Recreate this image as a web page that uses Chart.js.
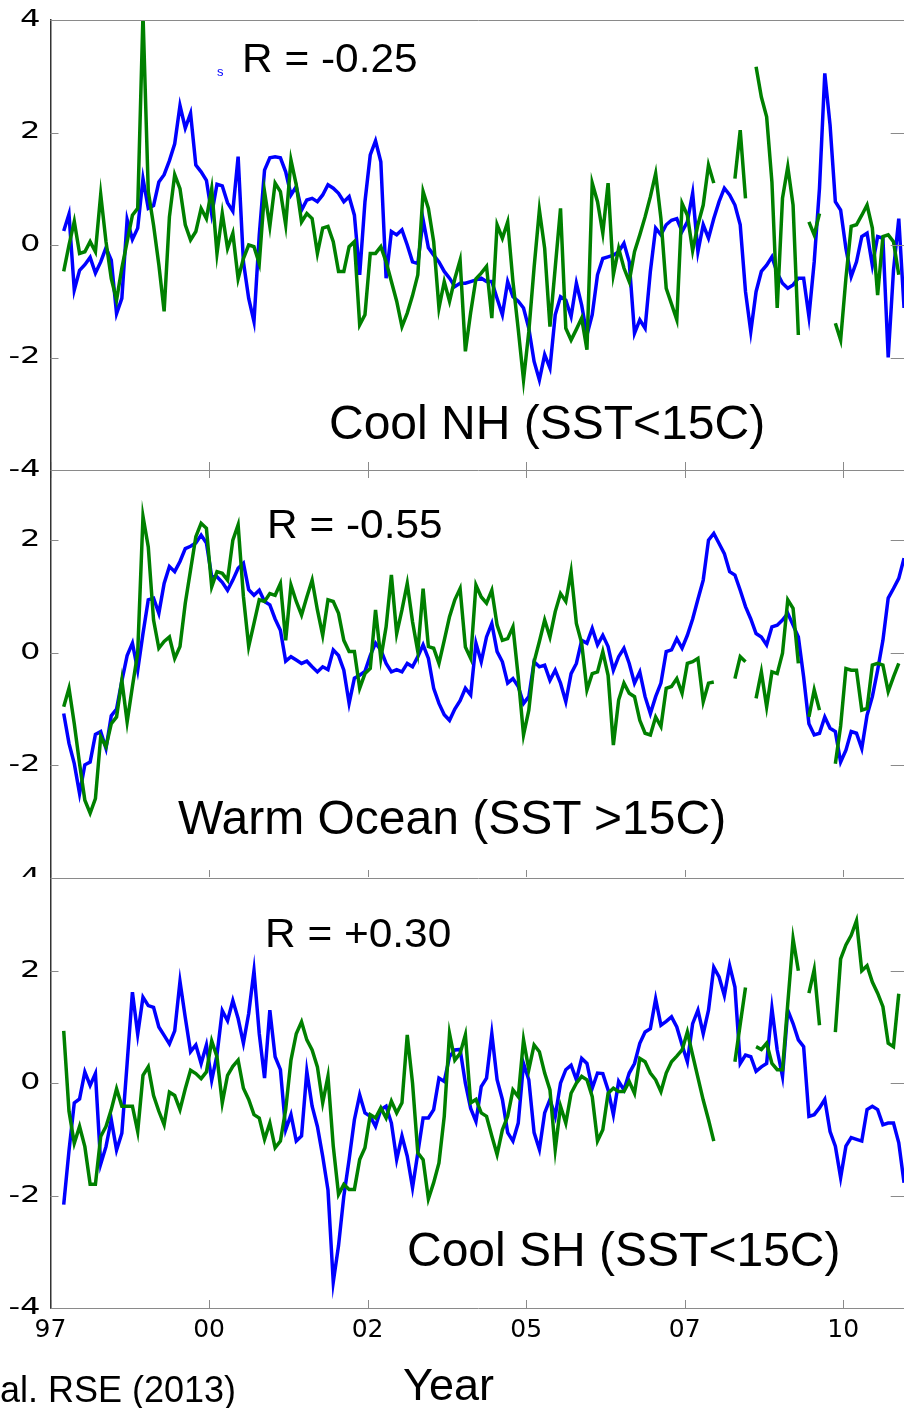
<!DOCTYPE html>
<html lang="en">
<head>
<meta charset="UTF-8">
<title>Chlorophyll anomalies 1997-2010</title>
<script src="https://cdn.jsdelivr.net/npm/chart.js@4"></script>
<style>
  html, body { margin: 0; padding: 0; background: #fff; }
  body { width: 904px; height: 1408px; position: relative; overflow: hidden; font-family: "Liberation Sans", Arial, sans-serif; }
  .panel { position: absolute; left: 0; width: 920px; overflow: hidden; }
  .panel canvas { position: absolute; left: 0; }
  .note { position: absolute; white-space: nowrap; color: #000; line-height: 1; z-index: 5; }
  .r { transform: scaleX(1.06); transform-origin: left top; }
</style>
</head>
<body>
  <div class="panel" id="w1" style="top:0; height:490px; z-index:2;"><canvas id="c1" width="920" height="490" style="top:0"></canvas></div>
  <div class="panel" id="w2" style="top:450px; height:450px; z-index:1;"><canvas id="c2" width="920" height="450" style="top:0"></canvas></div>
  <div class="panel" id="w3" style="top:877px; height:531px; z-index:3; background:#fff;"><canvas id="c3" width="920" height="548" style="top:-17px"></canvas></div>

  <div class="note" style="left:217px; top:65px; font-size:13px; color:#0000ff;">s</div>
  <div class="note r" style="left:242px; top:38px; font-size:40px;">R = -0.25</div>
  <div class="note" style="left:329px; top:399px; font-size:48px;">Cool NH (SST&lt;15C)</div>
  <div class="note r" style="left:267px; top:504px; font-size:40px;">R = -0.55</div>
  <div class="note" style="left:178px; top:794px; font-size:48px;">Warm Ocean (SST &gt;15C)</div>
  <div class="note r" style="left:265px; top:913px; font-size:40px;">R = +0.30</div>
  <div class="note" style="left:407px; top:1226px; font-size:48px;">Cool SH (SST&lt;15C)</div>
  <div class="note" style="left:403px; top:1362px; font-size:45px;">Year</div>
  <div class="note" style="left:0; top:1372px; font-size:36px;">al. RSE (2013)</div>

<script>
// monthly samples, Sep 1997 .. Dec 2010 (mid-month, decimal years)
const months = [];
for (let i = 0; i < 160; i++) months.push(1997 + (8.5 + i) / 12);

const yearTicks = [1997.5, 2000, 2002.5, 2005, 2007.5, 2010];
const yearLabels = ['97', '00', '02', '05', '07', '10'];
const yTicks = [-4, -2, 0, 2, 4];

// Cool NH (SST<15C)
const nhBlue = [
  0.25, 0.55, -0.80, -0.45, -0.35, -0.22, -0.50, -0.30, -0.05, -0.27,
  -1.22, -0.95, 0.45, 0.10, 0.30, 1.18, 0.65, 0.70, 1.12, 1.25,
  1.50, 1.80, 2.48, 2.08, 2.34, 1.42, 1.30, 1.15, 0.55, 1.08,
  1.05, 0.75, 0.60, 1.57, -0.30, -0.95, -1.36, 0.18, 1.33, 1.55,
  1.57, 1.55, 1.30, 0.89, 1.04, 0.62, 0.80, 0.83, 0.77, 0.89,
  1.07, 1.01, 0.92, 0.77, 0.86, 0.53, -0.53, 0.77, 1.60, 1.85,
  1.48, -0.59, 0.24, 0.18, 0.27, 0.00, -0.30, -0.33, 0.45, -0.05,
  -0.18, -0.30, -0.47, -0.59, -0.74, -0.68, -0.68, -0.65, -0.62, -0.59,
  -0.65, -0.65, -0.95, -1.24, -0.65, -0.92, -1.00, -1.12, -1.48, -2.07,
  -2.40, -1.95, -2.19, -1.24, -0.92, -0.98, -1.27, -0.68, -1.07, -1.60,
  -1.24, -0.53, -0.24, -0.21, -0.18, -0.12, 0.03, -0.30, -1.57, -1.33,
  -1.48, -0.47, 0.30, 0.18, 0.36, 0.44, 0.47, 0.24, 0.41, 0.92,
  -0.12, 0.36, 0.12, 0.47, 0.77, 1.01, 0.89, 0.71, 0.36, -0.83,
  -1.54, -0.83, -0.47, -0.36, -0.21, -0.50, -0.68, -0.77, -0.71, -0.59,
  -0.59, -1.27, -0.30, 1.01, 3.05, 2.13, 0.77, 0.62, -0.06, -0.56,
  -0.30, 0.15, 0.21, -0.36, 0.15, 0.12, -2.00, -0.45, 0.47, -1.12
];
const nhGreen = [
  -0.47, 0.00, 0.42, -0.15, -0.12, 0.06, -0.12, 0.90, 0.06, -0.60,
  -0.98, -0.41, 0.06, 0.53, 0.65, 4.10, 0.95, 0.35, -0.35, -1.18,
  0.50, 1.25, 1.00, 0.36, 0.09, 0.24, 0.65, 0.47, 1.00, -0.15,
  0.56, -0.06, 0.21, -0.60, -0.24, 0.00, -0.03, -0.33, 0.95, 0.33,
  1.10, 0.95, 0.36, 1.51, 1.07, 0.41, 0.56, 0.47, -0.15, 0.30,
  0.33, 0.06, -0.47, -0.47, -0.03, 0.06, -1.42, -1.24, -0.15, -0.15,
  -0.03, -0.30, -0.65, -1.00, -1.45, -1.21, -0.90, -0.53, 0.95, 0.65,
  0.06, -1.12, -0.65, -1.00, -0.60, -0.27, -1.89, -1.20, -0.60, -0.50,
  -0.38, -1.30, 0.36, 0.12, 0.41, -0.65, -1.50, -2.40, -1.54, -0.40,
  0.62, -0.06, -1.45, -0.40, 0.65, -1.48, -1.69, -1.50, -1.30, -1.86,
  1.10, 0.77, 0.21, 1.10, -0.53, -0.06, -0.41, -0.65, -0.12, 0.18,
  0.50, 0.86, 1.27, 0.47, -0.77, -1.05, -1.33, 0.74, 0.53, -0.10,
  0.36, 0.71, 1.42, 1.10, null, null, null, 1.18, 2.04, 0.83,
  null, 3.17, 2.63, 2.28, 1.12, -1.12, 0.83, 1.39, 0.71, -1.60,
  null, 0.41, 0.18, 0.56, null, null, -1.39, -1.69, -0.59, 0.33,
  0.36, 0.53, 0.71, 0.30, -0.89, 0.15, 0.18, 0.06, -0.53, null
];

// Warm Ocean (SST >15C)
const warmBlue = [
  -1.08, -1.61, -1.97, -2.50, -1.99, -1.94, -1.45, -1.40, -1.70, -1.12,
  -1.00, -0.50, -0.05, 0.17, -0.31, 0.34, 0.94, 0.97, 0.70, 1.23,
  1.53, 1.44, 1.62, 1.85, 1.89, 1.95, 2.09, 1.95, 1.35, 1.35,
  1.25, 1.11, 1.29, 1.50, 1.59, 1.12, 1.02, 1.11, 0.91, 0.85,
  0.60, 0.40, -0.15, -0.07, -0.13, -0.19, -0.15, -0.25, -0.34, -0.25,
  -0.30, 0.05, -0.05, -0.31, -0.90, -0.45, -0.40, -0.33, -0.05, 0.17,
  0.05, -0.19, -0.34, -0.30, -0.34, -0.19, -0.25, -0.07, 0.14, -0.10,
  -0.63, -0.90, -1.10, -1.20, -1.00, -0.85, -0.63, -0.75, 0.17, -0.16,
  0.28, 0.52, 0.02, -0.16, -0.54, -0.46, -0.60, -0.90, -0.78, -0.16,
  -0.25, -0.22, -0.49, -0.31, -0.54, -0.87, -0.37, -0.19, 0.22, 0.17,
  0.43, 0.14, 0.31, 0.11, -0.31, -0.07, 0.08, -0.19, -0.54, -0.34,
  -0.78, -1.08, -0.78, -0.54, 0.02, 0.05, 0.25, 0.08, 0.31, 0.60,
  0.95, 1.29, 2.00, 2.12, 1.94, 1.76, 1.44, 1.38, 1.11, 0.82,
  0.60, 0.34, 0.28, 0.14, 0.46, 0.49, 0.58, 0.70, 0.49, 0.28,
  -0.43, -1.26, -1.46, -1.43, -1.14, -1.34, -1.40, -1.94, -1.73, -1.40,
  -1.43, -1.70, -1.11, -0.78, -0.31, 0.22, 0.97, 1.14, 1.32, 1.68
];
const warmGreen = [
  -0.96, -0.63, -1.26, -1.97, -2.62, -2.85, -2.59, -1.49, -1.67, -1.26,
  -1.14, -0.49, -1.23, -0.60, 0.00, 2.42, 1.88, 0.58, 0.08, 0.20,
  0.28, -0.10, 0.11, 0.88, 1.47, 2.06, 2.30, 2.21, 1.17, 1.44,
  1.41, 1.29, 2.00, 2.27, 1.00, 0.11, 0.52, 0.94, 0.91, 1.05,
  1.02, 1.23, 0.22, 1.20, 0.91, 0.67, 0.99, 1.29, 0.76, 0.31,
  0.94, 0.91, 0.70, 0.22, 0.02, 0.02, -0.63, -0.37, -0.28, 0.76,
  -0.10, 0.46, 1.38, 0.34, 0.76, 1.23, 0.55, 0.02, 1.14, 0.11,
  0.08, -0.19, 0.22, 0.64, 0.94, 1.14, 0.10, -0.10, 1.20, 0.99,
  0.88, 1.11, 0.49, 0.22, 0.25, 0.46, -0.43, -1.46, -1.02, -0.16,
  0.20, 0.58, 0.28, 0.73, 1.05, 0.91, 1.44, 0.52, 0.17, -0.66,
  -0.37, -0.34, 0.02, -0.40, -1.64, -0.84, -0.54, -0.72, -0.78, -1.20,
  -1.43, -1.46, -1.14, -1.31, -0.63, -0.60, -0.46, -0.72, -0.19, -0.16,
  -0.10, -0.87, -0.54, -0.52, null, null, null, -0.46, -0.07, -0.16,
  null, -0.81, -0.34, -0.96, -0.34, -0.37, -0.01, 0.94, 0.79, -0.19,
  null, -1.14, -0.66, -1.02, null, null, -1.97, -1.30, -0.28, -0.31,
  -0.31, -1.02, -0.99, -0.22, -0.19, -0.22, -0.69, -0.43, -0.19, null
];

// Cool SH (SST<15C)
const shBlue = [
  -2.16, -1.20, -0.35, -0.28, 0.20, -0.04, 0.17, -1.44, -1.13, -0.65,
  -1.19, -0.89, 0.35, 1.62, 0.87, 1.53, 1.38, 1.35, 1.00, 0.85,
  0.70, 0.93, 1.81, 1.17, 0.56, 0.68, 0.35, 0.68, 0.05, 0.50,
  1.29, 1.11, 1.47, 1.15, 0.71, 1.24, 2.00, 0.88, 0.09, 1.30,
  0.47, 0.24, -0.83, -0.56, -1.03, -0.94, 0.21, -0.41, -0.77, -1.30,
  -1.90, -3.54, -2.89, -2.01, -1.36, -0.65, -0.21, -0.53, -0.59, -0.77,
  -0.47, -0.41, -0.71, -1.36, -0.94, -1.30, -1.86, -1.24, -0.62, -0.62,
  -0.47, 0.09, 0.03, 0.47, 0.59, 0.60, 0.00, -0.45, -0.68, -0.06,
  0.09, 0.88, 0.06, -0.29, -0.88, -1.03, -0.71, 0.35, 0.06, -0.88,
  -1.18, -0.53, -0.29, -0.59, 0.00, 0.24, 0.32, 0.06, 0.44, 0.35,
  -0.09, 0.18, 0.17, -0.12, -0.56, 0.03, -0.12, 0.18, 0.35, 0.71,
  0.91, 0.97, 1.50, 1.03, 1.10, 1.18, 1.00, 0.68, 0.38, 1.06,
  1.30, 0.88, 1.30, 2.06, 1.89, 1.56, 2.09, 1.71, 0.35, 0.50,
  0.47, 0.21, 0.29, 0.35, 1.33, 0.59, 0.12, 1.30, 1.06, 0.77,
  0.65, -0.59, -0.56, -0.44, -0.29, -0.86, -1.12, -1.68, -1.12, -0.97,
  -1.00, -1.03, -0.47, -0.41, -0.47, -0.74, -0.71, -0.71, -1.06, -1.77
];
const shGreen = [
  0.93, -0.50, -1.07, -0.77, -1.13, -1.80, -1.80, -0.95, -0.77, -0.47,
  -0.10, -0.41, -0.41, -0.41, -0.86, 0.14, 0.29, -0.22, -0.50, -0.74,
  -0.16, -0.22, -0.47, -0.10, 0.23, 0.17, 0.08, 0.20, 0.75, 0.47,
  -0.35, 0.14, 0.30, 0.41, -0.09, -0.29, -0.56, -0.62, -1.00, -0.71,
  -1.15, -1.03, -0.47, 0.41, 0.88, 1.09, 0.77, 0.59, 0.29, -0.35,
  0.12, -1.12, -1.98, -1.80, -1.89, -1.89, -1.36, -1.15, -0.56, -0.62,
  -0.44, -0.62, -0.32, -0.53, -0.35, 0.86, 0.00, -1.24, -1.36, -2.06,
  -1.77, -1.42, -0.59, 0.88, 0.41, 0.53, 0.86, -0.35, -0.29, -0.53,
  -0.59, -0.94, -1.27, -0.83, -0.59, -0.12, -0.24, 0.77, 0.24, 0.68,
  0.56, 0.18, -0.12, -1.18, -0.41, -0.71, -0.18, 0.00, 0.12, 0.06,
  -0.24, -1.03, -0.83, -0.18, -0.09, -0.15, -0.15, 0.03, -0.18, 0.44,
  0.38, 0.18, 0.06, -0.15, 0.18, 0.38, 0.48, 0.59, 0.91, 0.50,
  0.10, -0.30, -0.65, -1.03, null, null, null, 0.38, 1.05, 1.70,
  null, 0.65, 0.60, 0.71, 0.35, 0.24, 0.24, 1.42, 2.57, 2.00,
  null, 1.60, 2.02, 1.03, null, null, 0.91, 2.21, 2.46, 2.63,
  2.89, 2.00, 2.09, 1.80, 1.60, 1.36, 0.71, 0.65, 1.59, null
];

// box edges and inward tick marks, matlab style
const framePlugin = {
  id: 'frame',
  afterDatasetsDraw(chart, args, opts) {
    const { ctx, chartArea: a, scales: { x, y } } = chart;
    ctx.save();
    ctx.lineWidth = 1;
    ctx.strokeStyle = '#8a8a8a';
    ctx.beginPath();
    if (opts.top) {
      ctx.moveTo(a.left, a.top + 0.5);
      ctx.lineTo(a.right, a.top + 0.5);
    }
    x.ticks.forEach(t => {
      const px = Math.round(x.getPixelForValue(t.value)) + 0.5;
      ctx.moveTo(px, a.bottom);
      ctx.lineTo(px, a.bottom - 8);
      if (opts.topTicks) {
        ctx.moveTo(px, a.top);
        ctx.lineTo(px, a.top + 8);
      }
    });
    y.ticks.forEach(t => {
      const py = Math.round(y.getPixelForValue(t.value)) + 0.5;
      ctx.moveTo(a.left, py);
      ctx.lineTo(a.left + 8, py);
      ctx.moveTo(a.right, py);
      ctx.lineTo(a.right - 16, py);
    });
    ctx.stroke();
    ctx.restore();
  }
};

// the figure's y tick numbers are drawn wide; stretch chart.js' own labels about their right edge
function widenLabels(scale, factor) {
  if (scale._widened) return;
  const draw = scale.drawLabels;
  scale.drawLabels = function (area) {
    const c = this.ctx;
    const ax = this.right - this.options.ticks.padding;
    c.save();
    c.translate(ax, 0);
    c.scale(factor, 1);
    c.translate(-ax, 0);
    draw.call(this, area);
    c.restore();
  };
  scale._widened = true;
}

function makePanel(canvasId, blue, green, yMax, showYears, padding, frame) {
  const ctx = document.getElementById(canvasId).getContext('2d');
  return new Chart(ctx, {
    type: 'line',
    data: {
      labels: months,
      datasets: [
        { data: green, borderColor: '#008000', borderWidth: 3.5 },
        { data: blue, borderColor: '#0000ff', borderWidth: 3.5 }
      ]
    },
    options: {
      responsive: false,
      devicePixelRatio: 1,
      animation: false,
      spanGaps: false,
      layout: { padding: padding },
      elements: {
        point: { radius: 0 },
        line: { tension: 0, fill: false, borderJoinStyle: 'miter' }
      },
      plugins: {
        legend: { display: false },
        tooltip: { enabled: false },
        frame: frame
      },
      scales: {
        x: {
          type: 'linear',
          min: 1997.5,
          max: 2011,
          grid: { display: false, drawTicks: false },
          border: { display: true, color: '#8a8a8a', width: 1 },
          afterBuildTicks: s => { s.ticks = yearTicks.map(v => ({ value: v })); },
          afterFit: s => {
            s.height = showYears ? 40 : 0;
            s.paddingLeft = 0;
            s.paddingRight = 0;
          },
          ticks: {
            display: showYears,
            autoSkip: false,
            maxRotation: 0,
            padding: 7,
            color: '#000',
            font: { family: 'DejaVu Sans', size: 25 },
            callback: (v, i) => yearLabels[i]
          }
        },
        y: {
          min: -4,
          max: yMax,
          grid: { display: false, drawTicks: false },
          border: { display: true, color: '#333', width: 1.5 },
          afterBuildTicks: s => { s.ticks = yTicks.filter(v => v <= s.max + 1e-6).map(v => ({ value: v })); },
          afterFit: s => {
            // fixed axis box so the plot area lands where the original figure has it
            s.width = 50.5;
            s.paddingTop = 0;
            s.paddingBottom = 0;
            widenLabels(s, 1.4);
          },
          ticks: {
            padding: 10,
            color: '#000',
            font: { family: 'DejaVu Sans', size: 23 },
            callback: v => String(v)
          }
        }
      }
    },
    plugins: [framePlugin]
  });
}

makePanel('c1', nhBlue, nhGreen, 4, false,
  { top: 20, bottom: 20, left: 0, right: 13.3 }, { top: true, topTicks: false });
makePanel('c2', warmBlue, warmGreen, 3.245, false,
  { top: 20, bottom: 22, left: 0, right: 13.3 }, { top: false, topTicks: true });
makePanel('c3', shBlue, shGreen, 3.65, true,
  { top: 18, bottom: 60, left: 0, right: 13.3 }, { top: true, topTicks: false });
</script>
</body>
</html>
